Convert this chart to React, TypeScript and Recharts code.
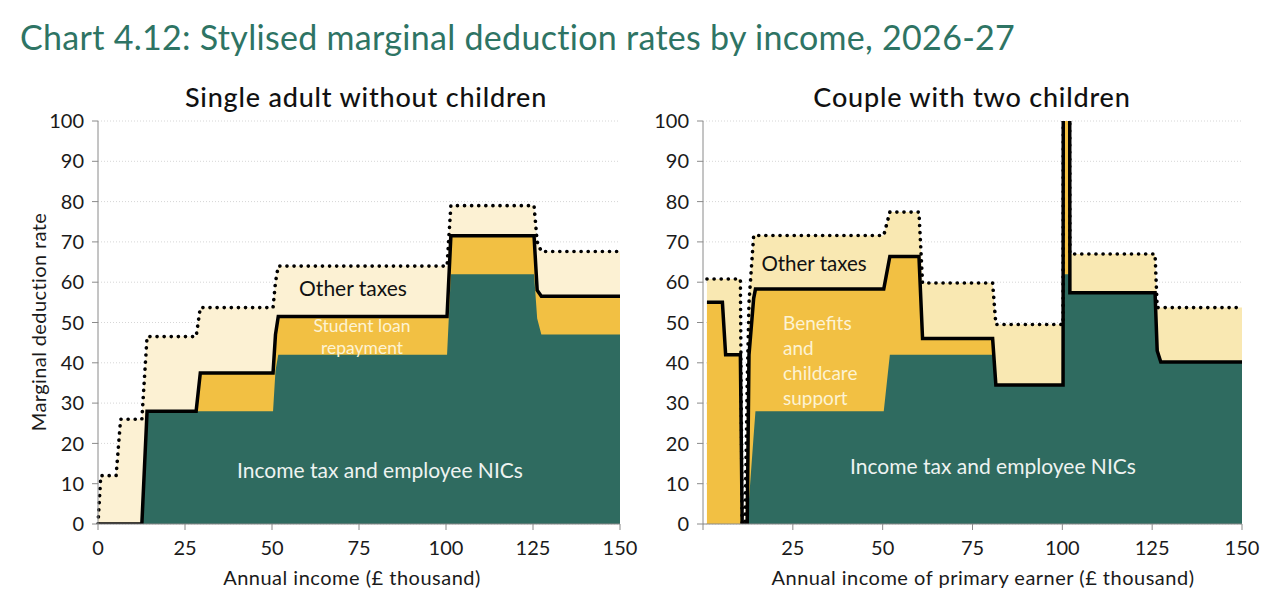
import { ComposedChart, Area, Line, XAxis, YAxis, CartesianGrid } from 'recharts'

// Single adult without children: income (£k) and marginal rates at each breakpoint
const singleIncome = [0, 0.8, 5.2, 6.5, 12.6, 14.1, 28.2, 29.4, 50.3, 51.0, 51.8, 100.3, 101.4, 125.3, 126.2, 127.4, 150]
const singleTaxNics = [0, 0, 0, 0, 0, 28, 28, 28, 28, 38, 42, 42, 62, 62, 51, 47, 47]
const singleWithLoan = [0, 0, 0, 0, 0, 28, 28, 37.5, 37.5, 47, 51.5, 51.5, 71.5, 71.5, 58, 56.5, 56.5]
const singleTotal = [0, 12, 12, 26, 26, 46.5, 46.5, 53.7, 53.7, 60, 64, 64, 79, 79, 70, 67.6, 67.6]

// Couple with two children: income of primary earner (£k)
const coupleIncome = [1.1, 5.4, 6.3, 10.4, 10.9, 11.7, 12.3, 12.8, 14.1, 14.6, 50.3, 52.0, 60.1, 61.1, 80.6, 81.5, 100.2, 100.3, 102.0, 102.1, 125.8, 126.4, 127.4, 150]
const coupleTaxNics = [0, 0, 0, 0, 0, 0, 0, 6.1, 22, 28, 28, 42, 42, 42, 42, 34.5, 34.5, 62, 62, 57.4, 57.4, 45, 40.2, 40.2]
const coupleWithBenefits = [55, 55, 42, 42, 0, 0, 0, 42, 56, 58.3, 58.3, 66.4, 66.4, 46, 46, 34.5, 34.5, 150, 150, 57.4, 57.4, 43, 40.2, 40.2]
const coupleTotal = [60.8, 60.8, 60.8, 60.8, 0, 0, 35, 55, 71.6, 71.6, 71.6, 77.4, 77.4, 59.8, 59.8, 49.5, 49.5, 150, 150, 67, 67, 53.7, 53.7, 53.7]

const xTicks = [0, 25, 50, 75, 100, 125, 150]
const yTicks = [0, 10, 20, 30, 40, 50, 60, 70, 80, 90, 100]

const GREEN = '#2f6b60'
const ORANGE = '#f2c043'
const FONT = 'Lato, "Noto Sans", sans-serif'

const buildRows = (xs: number[], base: number[], mid: number[], total: number[]) =>
  xs.map((x, i) => ({ x, base: base[i], mid: mid[i], total: total[i] }))

interface PanelProps {
  rows: { x: number; base: number; mid: number; total: number }[]
  width: number
  marginLeft: number
  marginRight: number
  lightFill: string
  hideZero?: boolean
}

function Panel({ rows, width, marginLeft, marginRight, lightFill, hideZero }: PanelProps) {
  const tickStyle = { fontSize: 20, fill: '#1a1a1a', fontFamily: FONT }
  return (
    <ComposedChart
      width={width}
      height={600}
      data={rows}
      margin={{ top: 121, right: marginRight, bottom: 46, left: marginLeft }}
    >
      <CartesianGrid vertical={false} stroke="#d6d6d6" strokeDasharray="1 2" />
      <XAxis
        type="number"
        dataKey="x"
        domain={[0, 150]}
        ticks={xTicks}
        interval={0}
        height={30}
        tickSize={6}
        tickMargin={11}
        stroke="#8a8a8a"
        tick={tickStyle}
        tickFormatter={(v) => (hideZero && v === 0 ? '' : String(v))}
      />
      <YAxis
        type="number"
        domain={[0, 100]}
        ticks={yTicks}
        allowDataOverflow
        interval={0}
        width={60}
        tickSize={6}
        tickMargin={8}
        stroke="#8a8a8a"
        tick={tickStyle}
      />
      <Area type="linear" dataKey="total" stroke="none" fill={lightFill} fillOpacity={1} isAnimationActive={false} />
      <Area type="linear" dataKey="mid" stroke="none" fill={ORANGE} fillOpacity={1} isAnimationActive={false} />
      <Area type="linear" dataKey="base" stroke="none" fill={GREEN} fillOpacity={1} isAnimationActive={false} />
      <Line type="linear" dataKey="mid" stroke="#000" strokeWidth={3.5} dot={false} isAnimationActive={false} />
      <Line
        type="linear"
        dataKey="total"
        stroke="#000"
        strokeWidth={3.6}
        strokeDasharray="0.1 7"
        strokeLinecap="round"
        dot={false}
        isAnimationActive={false}
      />
    </ComposedChart>
  )
}

const abs = (style: React.CSSProperties): React.CSSProperties => ({
  position: 'absolute',
  fontFamily: FONT,
  whiteSpace: 'nowrap',
  ...style,
})

export default function App() {
  const singleRows = buildRows(singleIncome, singleTaxNics, singleWithLoan, singleTotal)
  const coupleRows = buildRows(coupleIncome, coupleTaxNics, coupleWithBenefits, coupleTotal)

  return (
    <div style={{ position: 'absolute', left: 0, top: 0, width: 1273, height: 600, background: '#fff', overflow: 'hidden' }}>
      <div style={{ position: 'absolute', left: 0, top: 0 }}>
        <Panel rows={singleRows} width={640} marginLeft={38} marginRight={20} lightFill="#fcf1d3" />
      </div>
      <div style={{ position: 'absolute', left: 620, top: 0 }}>
        <Panel rows={coupleRows} width={653} marginLeft={23} marginRight={31} lightFill="#f9e8b2" hideZero />
      </div>

      <div style={abs({ left: 20, top: 17, fontSize: 34, lineHeight: '40px', letterSpacing: 0.3, color: '#2e7464' })}>
        Chart 4.12: Stylised marginal deduction rates by income, 2026-27
      </div>

      <div style={abs({ left: 116, width: 500, top: 82, textAlign: 'center', fontSize: 27, lineHeight: '30px', letterSpacing: 0.8, color: '#111', fontWeight: 500 })}>
        Single adult without children
      </div>
      <div style={abs({ left: 722, width: 500, top: 82, textAlign: 'center', fontSize: 27, lineHeight: '30px', letterSpacing: 0.8, color: '#111', fontWeight: 500 })}>
        Couple with two children
      </div>

      <div style={abs({ left: 38, top: 322, fontSize: 20, letterSpacing: 0.4, color: '#1a1a1a', transform: 'translate(-50%, -50%) rotate(-90deg)' })}>
        Marginal deduction rate
      </div>
      <div style={abs({ left: 102, width: 500, top: 565, textAlign: 'center', fontSize: 20, lineHeight: '24px', letterSpacing: 0.5, color: '#1a1a1a' })}>
        Annual income (£ thousand)
      </div>
      <div style={abs({ left: 683, width: 600, top: 565, textAlign: 'center', fontSize: 20, lineHeight: '24px', letterSpacing: 0.5, color: '#1a1a1a' })}>
        Annual income of primary earner (£ thousand)
      </div>

      <div style={abs({ left: 253, width: 200, top: 275, textAlign: 'center', fontSize: 21, lineHeight: '26px', color: '#111' })}>
        Other taxes
      </div>
      <div style={abs({ left: 262, width: 200, top: 315, textAlign: 'center', fontSize: 17.5, lineHeight: '22px', color: '#fdf3d3' })}>
        Student loan
        <br />
        repayment
      </div>
      <div style={abs({ left: 230, width: 300, top: 457, textAlign: 'center', fontSize: 21, lineHeight: '26px', color: '#eef3f1' })}>
        Income tax and employee NICs
      </div>

      <div style={abs({ left: 714, width: 200, top: 250, textAlign: 'center', fontSize: 20.5, lineHeight: '26px', color: '#111' })}>
        Other taxes
      </div>
      <div style={abs({ left: 783, top: 310, fontSize: 19, lineHeight: '25px', color: '#fdf3d3' })}>
        Benefits
        <br />
        and
        <br />
        childcare
        <br />
        support
      </div>
      <div style={abs({ left: 843, width: 300, top: 453, textAlign: 'center', fontSize: 21, lineHeight: '26px', color: '#eef3f1' })}>
        Income tax and employee NICs
      </div>
    </div>
  )
}
